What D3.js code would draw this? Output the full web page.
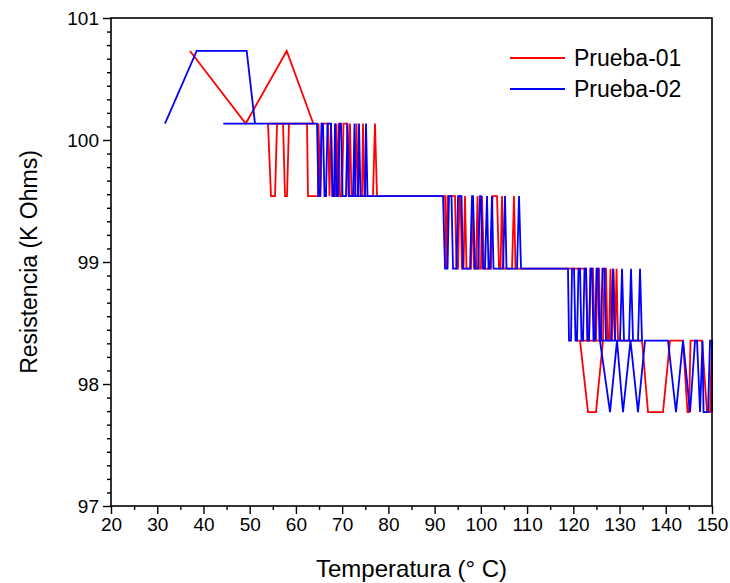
<!DOCTYPE html>
<html><head><meta charset="utf-8">
<script src="https://cdn.jsdelivr.net/npm/d3@7"></script>
<style>body{margin:0;background:#fff}svg{display:block}text{font-family:"Liberation Sans",Arial,sans-serif;fill:#000}</style>
</head><body>
<svg id="c" width="730" height="583"></svg>
<script>
// Resistance levels (K Ohms)
const L0 = 100.73, L1 = 100.135, L2 = 99.54, L3 = 98.945, L4 = 98.355, L5 = 97.77;

const seriesNames = ["Prueba-01", "Prueba-02"];
const seriesColors = ["#ff0000", "#0000ff"];
const xTicks = [20,30,40,50,60,70,80,90,100,110,120,130,140,150];
const yTicks = [97,98,99,100,101];

// Prueba-01
const temp01 = [37.09,49.14,58.01,63.76,53.96,54.61,55.48,55.91,57.21,57.64,58.07,58.50,62.40,62.61,64.78,64.88,
 65.32,65.64,66.94,67.26,67.59,67.91,68.45,68.67,68.99,69.21,69.54,69.97,70.29,71.05,71.37,71.70,72.02,72.78,73.10,73.43,74.29,74.51,74.83,76.67,77.10,77.54,
 92.25,92.57,92.79,94.41,94.73,95.06,95.38,95.60,95.92,96.25,96.57,96.90,97.87,98.20,98.52,98.95,99.28,99.60,100.03,100.25,100.68,102.20,102.52,103.50,103.93,104.25,104.58,104.90,106.74,107.17,107.50,
 122.75,123.07,123.40,123.72,124.26,124.59,124.91,125.24,125.56,125.88,120.58,121.45,123.18,124.91,126.42,126.75,127.07,127.40,127.72,128.04,128.37,128.69,129.02,129.35,129.67,
 134.86,136.16,139.40,140.92,143.73,144.70,145.03,145.35,147.84,148.92,149.57,150.0];
const res01 = [L0,L1,L0,L1,L1,L2,L2,L1,L1,L2,L2,L1,L1,L2,L2,L1,
 L2,L1,L1,L2,L1,L2,L2,L1,L2,L1,L2,L2,L1,L1,L2,L1,L2,L2,L1,L2,L2,L1,L2,L2,L1,L2,
 L2,L3,L2,L2,L3,L3,L2,L2,L3,L3,L2,L3,L3,L2,L3,L3,L2,L3,L3,L2,L3,L3,L2,L2,L3,L3,L2,L3,L3,L2,L3,
 L3,L4,L4,L3,L3,L4,L4,L3,L3,L4,L4,L4,L5,L5,L4,L3,L3,L4,L4,L3,L4,L3,L4,L3,L4,
 L4,L5,L5,L4,L4,L5,L5,L4,L4,L5,L5,L4];

// Prueba-02
const temp02 = [31.68,38.54,49.35,51.15,44.29,64.56,64.88,65.21,65.53,65.86,66.18,66.51,66.83,67.59,67.91,68.24,68.45,68.78,69.10,69.43,69.75,70.08,70.83,71.16,71.48,72.35,72.67,72.89,73.43,73.65,73.97,74.94,75.16,75.48,
 91.82,92.25,92.79,93.11,93.65,93.98,94.73,95.06,95.82,96.14,97.66,98.09,98.31,98.74,99.39,99.82,100.03,100.47,100.90,101.33,101.66,101.98,102.41,102.74,104.79,105.23,105.55,107.82,108.26,108.69,
 118.85,119.07,119.50,119.72,120.15,120.48,120.80,121.12,121.45,121.77,122.10,122.42,122.75,123.07,123.40,123.72,124.04,124.37,124.69,125.02,125.34,125.67,125.99,126.31,126.75,127.07,128.15,128.59,129.02,130.10,130.54,130.97,132.05,132.48,132.92,134.00,134.43,134.86,
 125.77,127.94,129.45,130.75,132.37,133.99,135.51,140.48,142.21,143.73,145.25,146.33,146.76,147.41,147.95,148.17,149.14,149.57,150.0,150.0];
const res02 = [L1,L0,L0,L1,L1,L1,L2,L2,L1,L1,L2,L2,L1,L1,L2,L2,L1,L2,L2,L1,L1,L2,L2,L1,L2,L2,L1,L2,L2,L1,L2,L2,L1,L2,
 L2,L3,L3,L2,L2,L3,L3,L2,L2,L3,L3,L2,L2,L3,L3,L2,L2,L3,L3,L2,L3,L3,L2,L3,L3,L2,L3,L3,L2,L3,
 L3,L4,L4,L3,L3,L4,L4,L3,L3,L4,L4,L3,L3,L4,L4,L3,L3,L4,L4,L3,L3,L4,L4,L3,L3,L4,L4,L3,L4,L4,L3,L4,L4,L3,L4,L4,L3,L4,
 L4,L5,L4,L5,L4,L5,L4,L4,L5,L4,L5,L4,L4,L5,L4,L5,L5,L4,L4,L5];

const svg = d3.select("#c");
const M = {left:111, right:712, top:18, bottom:506};
const x = d3.scaleLinear().domain([20,150]).range([M.left, M.right]);
const y = d3.scaleLinear().domain([97,101]).range([M.bottom, M.top]);

const line = d3.line().x(d=>x(d[0])).y(d=>y(d[1]));
const data = [d3.zip(temp01,res01), d3.zip(temp02,res02)];
const g = svg.append("g");
data.forEach((d,i)=>{
  g.append("path").attr("d", line(d)).attr("fill","none")
   .attr("stroke", seriesColors[i]).attr("stroke-width",1.8).attr("stroke-linejoin","miter");
});

// frame
svg.append("rect").attr("x",M.left).attr("y",M.top).attr("width",M.right-M.left).attr("height",M.bottom-M.top)
  .attr("fill","none").attr("stroke","#000").attr("stroke-width",1.6);

// x axis
svg.append("g").attr("transform",`translate(0,${M.bottom})`)
  .call(d3.axisBottom(x).tickValues(xTicks).tickSize(8).tickPadding(4).tickFormat(d3.format("d")));
svg.append("g").attr("transform",`translate(0,${M.bottom})`)
  .call(d3.axisBottom(x).tickValues(d3.range(25,150,10)).tickSize(4).tickFormat(""));
// y axis
svg.append("g").attr("transform",`translate(${M.left},0)`)
  .call(d3.axisLeft(y).tickValues(yTicks).tickSize(8).tickPadding(4).tickFormat(d3.format("d")));
const minorY = [];
for (let k=97;k<101;k++) for (let j=1;j<9;j++) minorY.push(k + j/9);
svg.append("g").attr("transform",`translate(${M.left},0)`)
  .call(d3.axisLeft(y).tickValues(minorY).tickSize(4).tickFormat(""));
svg.selectAll(".domain").remove();
svg.selectAll(".tick line").attr("stroke","#000").attr("stroke-width",1.4);
svg.selectAll(".tick text").style("font-size","19px").style("font-family","Liberation Sans, Arial, sans-serif");

// titles
svg.append("text").attr("x",(M.left+M.right)/2).attr("y",577).attr("text-anchor","middle")
  .style("font-size","24px").text("Temperatura (° C)");
svg.append("text").attr("transform",`translate(37,262) rotate(-90)`).attr("text-anchor","middle")
  .style("font-size","23px").text("Resistencia (K Ohms)");

// legend
seriesNames.forEach((n,i)=>{
  const yy = 58 + i*31;
  svg.append("line").attr("x1",510).attr("x2",565).attr("y1",yy).attr("y2",yy)
    .attr("stroke",seriesColors[i]).attr("stroke-width",1.8);
  svg.append("text").attr("x",574).attr("y",yy+8).style("font-size","23px").text(n);
});
</script>
</body></html>
